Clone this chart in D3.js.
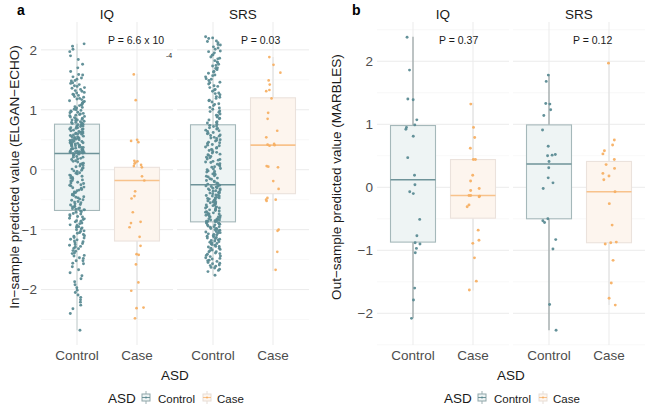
<!DOCTYPE html>
<html><head><meta charset="utf-8">
<script src="https://cdn.jsdelivr.net/npm/d3@7"></script>
<style>body{margin:0;background:#fff} text{font-family:"Liberation Sans",Arial,Helvetica,sans-serif}</style>
</head><body><svg id="c" width="647" height="409"></svg>
<script>
// ---------- data ----------
const facets = ["IQ", "SRS"];
const groups = ["Control", "Case"];
const yTickValues = [-2, -1, 0, 1, 2];
const yTickLabels = ["\u22122", "\u22121", "0", "1", "2"];
const pLabelsA = ["P = 6.6 x 10", "P = 0.03"];
const pSupA = ["-4", ""];
const pLabelsB = ["P = 0.37", "P = 0.12"];

// box stats: [lower whisker, Q1, median, Q3, upper whisker]
const a_IQ_Control_box = [-2.68, -0.68, 0.27, 0.76, 2.10];
const a_IQ_Case_box = [-2.49, -1.19, -0.18, 0.04, 1.60];
const a_SRS_Control_box = [-1.76, -0.87, -0.25, 0.75, 2.22];
const a_SRS_Case_box = [-1.69, -0.40, 0.41, 1.20, 1.88];
const b_IQ_Control_box = [-2.08, -0.87, 0.12, 0.98, 2.39];
const b_IQ_Case_box = [-1.64, -0.49, -0.13, 0.44, 1.34];
const b_SRS_Control_box = [-2.27, -0.50, 0.37, 0.99, 1.79];
const b_SRS_Case_box = [-1.87, -0.88, -0.07, 0.41, 2.00];

const a_IQ_Control = [2.10,2.06,2.01,1.97,1.90,1.84,1.76,1.70,1.64,1.59,1.55,1.51,1.48,1.45,1.42,1.39,1.37,1.34,1.31,1.29,1.26,1.24,1.21,1.19,1.17,1.15,1.13,1.11,1.09,1.07,1.05,1.03,1.01,0.99,0.98,0.96,0.95,0.93,0.92,0.90,0.89,0.87,0.86,0.84,0.83,0.82,0.80,0.79,0.78,0.77,
0.76,0.75,0.74,0.73,0.71,0.70,0.69,0.68,0.67,0.66,0.64,0.63,0.62,0.61,0.60,0.59,0.57,0.56,0.55,0.54,0.53,0.52,0.50,0.49,0.48,0.47,0.46,0.45,0.44,0.43,0.42,0.41,0.40,0.39,0.38,0.37,0.36,0.35,0.34,0.33,0.33,0.32,0.31,0.30,0.30,0.29,0.29,0.28,0.28,0.27,
0.26,0.24,0.22,0.21,0.19,0.17,0.15,0.13,0.11,0.09,0.07,0.05,0.03,0.01,-0.01,-0.03,-0.05,-0.07,-0.09,-0.11,-0.13,-0.15,-0.17,-0.19,-0.21,-0.23,-0.25,-0.27,-0.29,-0.31,-0.33,-0.35,-0.37,-0.39,-0.41,-0.43,-0.45,-0.47,-0.49,-0.51,-0.53,-0.55,-0.57,-0.59,-0.61,-0.62,-0.64,-0.65,-0.66,-0.67,
-0.69,-0.71,-0.73,-0.75,-0.77,-0.79,-0.81,-0.83,-0.85,-0.87,-0.90,-0.92,-0.95,-0.97,-1.00,-1.02,-1.05,-1.08,-1.11,-1.14,-1.17,-1.20,-1.23,-1.26,-1.29,-1.32,-1.36,-1.40,-1.44,-1.48,-1.52,-1.57,-1.62,-1.67,-1.72,-1.77,-1.82,-1.87,-1.92,-1.97,-2.01,-2.05,-2.09,-2.13,-2.17,-2.21,-2.26,-2.32,-2.40,-2.68,
1.58,1.53,1.49,1.44,1.40,1.36,1.32,1.28,1.25,1.22,1.18,1.14,1.12,1.08,1.04,1.00,0.97,0.94,0.91,0.88,0.85,0.83,0.81,0.79,0.77,
0.75,0.73,0.72,0.70,0.68,0.65,0.63,0.61,0.60,0.58,0.55,0.53,0.51,0.50,0.47,0.45,0.43,0.41,0.40,0.37,0.35,0.34,0.31,0.29,0.28,
0.25,0.21,0.18,0.14,0.10,0.06,0.02,-0.02,-0.06,-0.10,-0.14,-0.18,-0.22,-0.26,-0.30,-0.34,-0.38,-0.42,-0.46,-0.50,-0.54,-0.58,-0.62,-0.65,-0.67,
-0.70,-0.74,-0.78,-0.82,-0.86,-0.89,-0.93,-0.96,-0.99,-1.03,-1.06,-1.10,-1.13,-1.16,-1.19,-1.22,-1.25,-1.28,-1.31,-1.35,-1.39,-1.43,-1.47,-1.52,-1.56];
const a_IQ_Case = [1.59,1.16,0.50,0.48,0.46,0.15,0.14,0.12,0.10,0.08,0.06,0.04,-0.11,-0.18,-0.36,-0.44,-0.48,-0.71,-0.87,-0.89,-0.96,-1.12,-1.27,-1.41,-1.42,-1.58,-1.88,-2.02,-2.30,-2.31,-2.48];
const a_SRS_Control = [2.22,2.19,2.15,2.12,2.08,2.05,2.01,1.98,1.95,1.92,1.88,1.85,1.82,1.79,1.76,1.73,1.70,1.67,1.64,1.61,1.58,1.55,1.52,1.49,1.46,1.43,1.40,1.37,1.34,1.31,1.28,1.25,1.22,1.19,1.16,1.13,1.10,1.07,1.04,1.01,0.98,0.96,0.93,0.90,0.88,0.85,0.83,0.80,0.78,0.76,
0.74,0.72,0.70,0.68,0.66,0.64,0.62,0.60,0.58,0.56,0.54,0.52,0.50,0.48,0.46,0.44,0.42,0.40,0.38,0.36,0.34,0.32,0.30,0.28,0.26,0.24,0.22,0.20,0.18,0.16,0.14,0.12,0.10,0.08,0.06,0.04,0.02,0.00,-0.02,-0.04,-0.06,-0.08,-0.10,-0.12,-0.14,-0.16,-0.18,-0.20,-0.22,-0.24,
-0.26,-0.27,-0.28,-0.30,-0.31,-0.32,-0.34,-0.35,-0.36,-0.38,-0.39,-0.40,-0.42,-0.43,-0.44,-0.46,-0.47,-0.48,-0.50,-0.51,-0.52,-0.54,-0.55,-0.56,-0.58,-0.59,-0.60,-0.62,-0.63,-0.64,-0.66,-0.67,-0.68,-0.70,-0.71,-0.72,-0.74,-0.75,-0.76,-0.78,-0.79,-0.80,-0.82,-0.83,-0.84,-0.85,-0.85,-0.86,-0.86,-0.87,
-0.88,-0.89,-0.90,-0.91,-0.92,-0.94,-0.95,-0.96,-0.98,-0.99,-1.00,-1.02,-1.03,-1.05,-1.06,-1.08,-1.09,-1.11,-1.12,-1.14,-1.15,-1.17,-1.18,-1.20,-1.21,-1.23,-1.24,-1.26,-1.28,-1.29,-1.31,-1.33,-1.35,-1.37,-1.39,-1.41,-1.43,-1.45,-1.47,-1.49,-1.51,-1.53,-1.55,-1.57,-1.59,-1.61,-1.63,-1.66,-1.70,-1.76,
2.20,2.14,2.09,2.03,1.97,1.91,1.86,1.80,1.74,1.69,1.63,1.57,1.51,1.45,1.39,1.33,1.27,1.21,1.15,1.09,1.03,0.97,0.91,0.86,0.79,
0.73,0.69,0.65,0.61,0.57,0.53,0.49,0.45,0.41,0.37,0.33,0.29,0.25,0.21,0.17,0.13,0.09,0.05,0.01,-0.03,-0.07,-0.11,-0.15,-0.19,-0.23,
-0.27,-0.29,-0.32,-0.34,-0.37,-0.39,-0.42,-0.44,-0.47,-0.49,-0.52,-0.54,-0.57,-0.59,-0.62,-0.64,-0.67,-0.69,-0.72,-0.74,-0.77,-0.79,-0.82,-0.84,-0.86,
-0.89,-0.92,-0.95,-0.98,-1.01,-1.04,-1.07,-1.10,-1.13,-1.16,-1.19,-1.22,-1.25,-1.28,-1.31,-1.34,-1.37,-1.40,-1.44,-1.48,-1.52,-1.56,-1.60,-1.64,-1.68];
const a_SRS_Case = [1.88,1.75,1.62,1.49,1.42,1.33,1.31,1.19,0.95,0.85,0.65,0.54,0.43,0.42,0.41,0.40,0.06,0.05,0.04,-0.19,-0.32,-0.47,-0.50,-0.50,-0.52,-1.00,-1.02,-1.37,-1.67];
const b_IQ_Control = [2.38,1.86,1.40,1.39,1.07,0.99,0.95,0.92,0.81,0.47,0.19,0.04,-0.07,-0.10,-0.51,-0.77,-0.88,-0.90,-0.97,-1.04,-1.60,-1.79,-2.08];
const b_IQ_Case = [1.32,0.95,0.79,0.62,0.44,0.44,0.19,0.10,-0.02,-0.05,-0.13,-0.13,-0.15,-0.14,-0.28,-0.31,-0.68,-0.84,-0.89,-1.12,-1.49,-1.63];
const b_SRS_Control = [1.78,1.68,1.33,1.32,1.23,1.14,0.91,0.65,0.52,0.51,0.50,0.41,0.31,0.15,0.07,-0.02,-0.50,-0.53,-0.56,-0.83,-0.98,-1.86,-2.27];
const b_SRS_Case = [1.97,0.75,0.67,0.58,0.53,0.44,0.36,0.30,0.22,0.18,0.12,-0.07,-0.26,-0.60,-0.87,-0.88,-0.90,-1.16,-1.52,-1.76,-1.87];

// ---------- style ----------
const col = {
  Control: {pt: "#5b8b93", fill: "#eef4f4", stroke: "#a5b8ba", med: "#6e9399"},
  Case:    {pt: "#f7b064", fill: "#fdf5ee", stroke: "#ebe2dc", med: "#f8c28b"}
};

const svg = d3.select("#c");
const TOP = 22, BOTTOM = 345, GAP = 4;
// deterministic jitter (position only, not data)
function jit(i, seed) { const h = Math.sin((i + 1) * 12.9898 + seed * 78.233) * 43758.5453; return (h - Math.floor(h)) * 2 - 1; }

function drawPanel(cfg, pseed) {
  const g = svg.append("g");
  const facetW = (cfg.width - GAP) / 2;
  const all = [];
  facets.forEach(f => groups.forEach(gr => { all.push(...cfg.series[f][gr].pts, ...cfg.series[f][gr].box); }));
  const ext = d3.extent(all);
  const pad = (ext[1] - ext[0]) * 0.05;
  const y = d3.scaleLinear().domain([ext[0] - pad, ext[1] + pad]).range([BOTTOM, TOP]);
  const minor = d3.range(-2.5, 3, 1).filter(v => v >= y.domain()[0] && v <= y.domain()[1]);

  facets.forEach((f, fi) => {
    const fx0 = cfg.x0 + fi * (facetW + GAP);
    const x = d3.scalePoint().domain(groups).range([fx0, fx0 + facetW]).padding(0.6);
    const step = x.step();
    const fg = g.append("g");
    fg.selectAll(".mn").data(minor).join("line")
      .attr("x1", fx0).attr("x2", fx0 + facetW).attr("y1", d => y(d)).attr("y2", d => y(d))
      .attr("stroke", "#f3f3f3").attr("stroke-width", 0.6);
    fg.selectAll(".mj").data(yTickValues).join("line")
      .attr("x1", fx0).attr("x2", fx0 + facetW).attr("y1", d => y(d)).attr("y2", d => y(d))
      .attr("stroke", "#ebebeb").attr("stroke-width", 1);
    fg.selectAll(".vj").data(groups).join("line")
      .attr("x1", d => x(d)).attr("x2", d => x(d)).attr("y1", TOP).attr("y2", BOTTOM)
      .attr("stroke", "#ebebeb").attr("stroke-width", 1);
    fg.append("text").attr("x", fx0 + facetW / 2).attr("y", 19).attr("text-anchor", "middle")
      .attr("font-size", 13.5).attr("fill", "#1a1a1a").text(f);
    fg.append("text").attr("x", fx0 + cfg.pOffset[fi]).attr("y", 44)
      .attr("font-size", 10.5).attr("fill", "#1a1a1a").text(cfg.pLabels[fi]);
    if (cfg.pSup && cfg.pSup[fi]) {
      fg.append("text").attr("x", fx0 + cfg.pOffset[fi] + 58).attr("y", 58)
        .attr("font-size", 7).attr("fill", "#1a1a1a").text(cfg.pSup[fi]);
    }
    groups.forEach((gr, gi) => {
      const s = cfg.series[f][gr], c = col[gr], cx = x(gr), bw = step * 0.75;
      const b = s.box;
      const wc = gr === "Control" ? cfg.ctrlWhisker : "#e2e2e2";
      fg.append("line").attr("x1", cx).attr("x2", cx).attr("y1", y(b[4])).attr("y2", y(b[3]))
        .attr("stroke", wc).attr("stroke-width", 1.1);
      fg.append("line").attr("x1", cx).attr("x2", cx).attr("y1", y(b[1])).attr("y2", y(b[0]))
        .attr("stroke", wc).attr("stroke-width", 1.1);
      fg.append("rect").attr("x", cx - bw / 2).attr("width", bw)
        .attr("y", y(b[3])).attr("height", y(b[1]) - y(b[3]))
        .attr("fill", c.fill).attr("stroke", c.stroke).attr("stroke-width", 1.1);
      fg.append("line").attr("x1", cx - bw / 2).attr("x2", cx + bw / 2)
        .attr("y1", y(b[2])).attr("y2", y(b[2])).attr("stroke", c.med).attr("stroke-width", 1.6);
      const jw = step * 0.125, seed = pseed * 7 + fi * 3 + gi + 1;
      fg.selectAll(null).data(s.pts).join("circle")
        .attr("cx", (d, i) => cx + jit(i, seed) * jw)
        .attr("cy", d => y(d)).attr("r", gr === "Control" ? cfg.rc : cfg.r)
        .attr("fill", c.pt).attr("fill-opacity", 0.95);
    });
    fg.selectAll(".xt").data(groups).join("text")
      .attr("x", d => x(d)).attr("y", 360).attr("text-anchor", "middle")
      .attr("font-size", 13.5).attr("fill", "#4d4d4d").text(d => d);
  });

  g.selectAll(".yt").data(yTickValues).join("text")
    .attr("x", cfg.x0 - 4).attr("y", d => y(d)).attr("dy", "0.36em").attr("text-anchor", "end")
    .attr("font-size", 13.5).attr("fill", "#4d4d4d").text((d, i) => yTickLabels[i]);
  g.append("text").attr("transform", `translate(${cfg.ytx},${177}) rotate(-90)`)
    .attr("text-anchor", "middle").attr("font-size", 13.5).attr("fill", "#1a1a1a").text(cfg.ylab);
  const cxm = cfg.x0 + cfg.width / 2;
  g.append("text").attr("x", cxm).attr("y", 380).attr("text-anchor", "middle")
    .attr("font-size", 13.5).attr("fill", "#1a1a1a").text("ASD");
  g.append("text").attr("x", cfg.letterX).attr("y", 15).attr("font-size", 14).attr("font-weight", "bold")
    .attr("fill", "#000").text(cfg.letter);
  const lg = g.append("g");
  lg.append("text").attr("x", cxm - 67).attr("y", 403).attr("font-size", 13.5).attr("fill", "#1a1a1a").text("ASD");
  const keys = [{gr: "Control", kx: -29, tx: -17}, {gr: "Case", kx: 32, tx: 42}];
  keys.forEach(k => {
    const c = col[k.gr], kx = cxm + k.kx;
    lg.append("line").attr("x1", kx).attr("x2", kx).attr("y1", 391).attr("y2", 404)
      .attr("stroke", k.gr === "Control" ? "#9fb1b3" : "#e6ddd6").attr("stroke-width", 1);
    lg.append("rect").attr("x", kx - 4).attr("y", 394).attr("width", 8).attr("height", 7)
      .attr("fill", c.fill).attr("stroke", k.gr === "Control" ? "#8fa6a9" : "#e8ddd5").attr("stroke-width", 1);
    lg.append("line").attr("x1", kx - 4).attr("x2", kx + 4).attr("y1", 397.5).attr("y2", 397.5)
      .attr("stroke", c.med).attr("stroke-width", 1);
    lg.append("circle").attr("cx", kx).attr("cy", 397.5).attr("r", 1).attr("fill", c.pt);
    lg.append("text").attr("x", cxm + k.tx).attr("y", 403).attr("font-size", 11.5).attr("fill", "#1a1a1a").text(k.gr);
  });
}

drawPanel({
  letter: "a", letterX: 17, x0: 41, width: 268, ytx: 19, r: 1.35, rc: 1.45,
  ylab: "In\u2212sample predicted value (ELGAN\u2212ECHO)",
  pLabels: pLabelsA, pSup: pSupA, pOffset: [67, 64], ctrlWhisker: "#c9d3d4",
  series: {
    IQ: {Control: {pts: a_IQ_Control, box: a_IQ_Control_box}, Case: {pts: a_IQ_Case, box: a_IQ_Case_box}},
    SRS: {Control: {pts: a_SRS_Control, box: a_SRS_Control_box}, Case: {pts: a_SRS_Case, box: a_SRS_Case_box}}
  }
}, 1);
drawPanel({
  letter: "b", letterX: 352, x0: 377, width: 268, ytx: 341, r: 1.45, rc: 1.45,
  ylab: "Out\u2212sample predicted value (MARBLES)",
  pLabels: pLabelsB, pSup: null, pOffset: [62, 60], ctrlWhisker: "#8e9a9b",
  series: {
    IQ: {Control: {pts: b_IQ_Control, box: b_IQ_Control_box}, Case: {pts: b_IQ_Case, box: b_IQ_Case_box}},
    SRS: {Control: {pts: b_SRS_Control, box: b_SRS_Control_box}, Case: {pts: b_SRS_Case, box: b_SRS_Case_box}}
  }
}, 2);
</script></body></html>
